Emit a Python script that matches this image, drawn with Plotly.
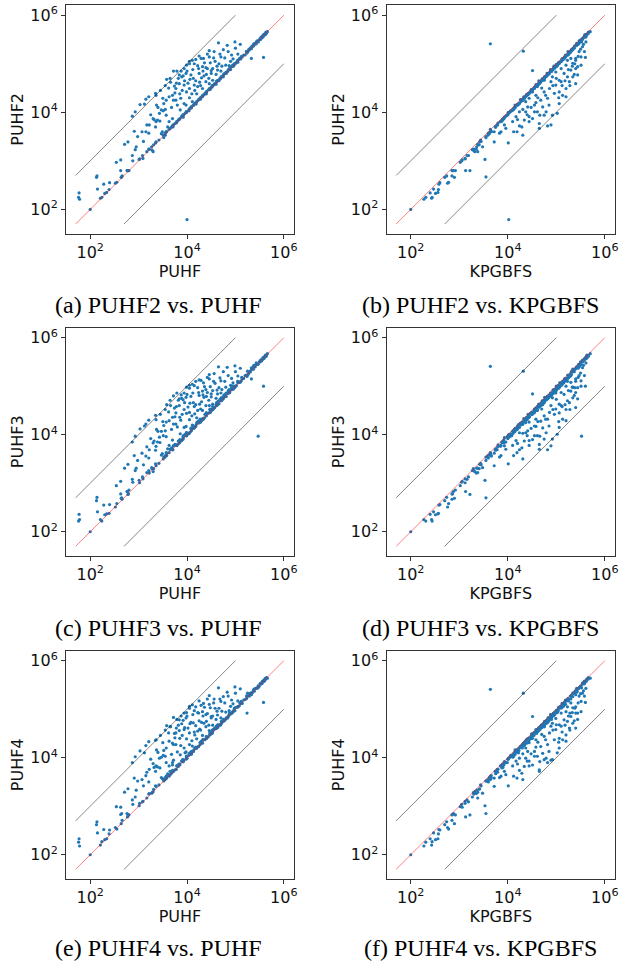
import numpy as np
import plotly.graph_objects as go
from plotly.subplots import make_subplots

# All values are log10(expansions) per problem instance.
# Group A: instances where PUHF is clearly better than PUHF2/3/4 (~KPGBFS)
a_puhf = [1.77,1.76,1.78,2.13,2.14,2.15,2.28,2.40,2.54,2.63,2.63,2.76,2.80,2.71,2.78,2.87,2.88,2.93,2.95,2.91,
          2.87,2.93,3.07,3.15,3.21,3.17,3.22,3.09,3.21,3.28,3.30,3.03,3.12,3.21,3.15,3.35,3.36,3.32,3.36,3.44,
          3.47,3.49,3.52,3.37,3.47,3.51,3.55,3.43,3.57,3.30,3.39,3.63,3.70,3.50,3.57,3.63,3.70,3.77,3.87,3.94,
          3.98,4.11,3.58,3.65,3.72,3.79,3.84,3.89,3.98,3.74,3.77,3.84,3.94,3.99,4.05,4.15,4.22,4.08,4.13,4.25,
          4.30,4.35,3.94,3.99,4.05,4.15,4.11,4.18,4.25,4.29,4.34,4.46,4.70,4.22,4.32,4.39,4.42,4.53,4.63,4.80,
          4.87,4.46,4.56,4.65,4.83,4.99,4.75,4.39,4.46,4.53,4.32,4.20,4.05,3.86,3.60,4.60,4.70,4.95,5.05,4.90,
          3.68,3.75,3.80,3.90,3.95,4.02,4.10,4.18,4.26,4.33,4.40,4.48,4.58,4.62,3.82,3.62,3.52,3.40,4.45,4.68,
          3.45,3.55,3.66,3.72,3.78,3.85,3.92,4.00,4.06,4.12,4.16,4.24,4.28,4.36,4.42,4.50,4.55,4.66,4.72,4.78,
          4.85,4.92,5.00,5.10,3.35,3.25,3.10,2.98,3.88,4.05]
a_puhf2 = [2.34,2.25,2.21,2.66,2.69,2.42,2.52,2.55,2.97,3.02,2.80,2.80,2.80,3.34,3.39,3.11,3.00,3.23,3.29,3.61,
           3.92,4.01,3.60,3.60,3.57,3.74,3.74,3.05,3.24,3.22,3.19,4.16,4.17,4.32,4.27,4.39,4.35,3.85,3.81,3.82,
           3.56,3.60,3.48,4.15,4.05,4.03,4.06,3.98,3.94,3.87,3.84,3.81,3.87,4.29,4.25,4.32,4.35,4.25,4.29,4.18,
           4.15,4.22,4.68,4.70,4.85,4.85,4.77,4.73,4.80,4.54,4.49,4.59,4.56,4.42,4.49,4.56,4.53,4.77,4.70,4.80,
           4.71,4.75,4.90,4.97,5.00,5.00,5.07,5.09,5.16,5.11,5.11,5.14,5.14,4.96,4.94,4.92,4.90,4.90,4.87,4.97,
           4.96,5.27,5.25,5.43,5.38,5.45,5.29,4.63,4.59,4.66,4.49,4.38,4.30,4.05,3.70,4.78,4.85,5.10,5.20,5.05,
           4.10,4.40,4.15,4.45,4.65,4.60,4.38,4.65,4.62,4.85,4.78,5.02,5.05,4.95,4.70,4.50,4.18,4.10,4.70,5.20,
           4.45,4.55,4.62,4.25,4.60,4.38,4.75,4.85,4.68,4.88,4.45,4.90,4.55,5.02,5.20,4.80,5.12,5.00,4.95,5.12,
           5.25,5.18,5.32,5.40,3.70,3.95,3.40,3.50,4.85,5.05]
a_kpg = [2.40,2.31,2.27,2.70,2.74,2.47,2.58,2.60,3.02,3.06,2.86,2.88,2.92,3.38,3.42,3.16,3.05,3.27,3.36,3.66,
         3.96,4.05,3.64,3.66,3.60,3.79,3.78,3.12,3.30,3.29,3.32,4.20,4.22,4.36,4.31,4.43,4.40,3.90,3.85,3.88,
         3.62,3.64,3.55,4.19,4.10,4.08,4.12,4.02,3.99,3.92,3.88,3.86,3.92,4.34,4.30,4.36,4.39,4.31,4.34,4.24,
         4.20,4.27,4.72,4.75,4.89,4.90,4.82,4.78,4.85,4.59,4.54,4.64,4.61,4.47,4.54,4.61,4.58,4.82,4.75,4.85,
         4.76,4.80,4.95,5.02,5.05,5.04,5.12,5.14,5.20,5.16,5.15,5.19,5.18,5.01,4.99,4.97,4.95,4.94,4.92,5.02,
         5.01,5.31,5.30,5.47,5.42,5.49,5.34,4.68,4.64,4.71,4.54,4.43,4.35,4.10,3.75,4.83,4.90,5.15,5.25,5.10,
         4.15,4.45,4.20,4.50,4.70,4.65,4.43,4.70,4.67,4.90,4.83,5.07,5.10,5.00,4.75,4.55,4.23,4.15,4.75,5.25,
         4.50,4.60,4.67,4.30,4.65,4.43,4.80,4.90,4.73,4.93,4.50,4.95,4.60,5.07,5.25,4.85,5.17,5.05,5.00,5.17,
         5.30,5.23,5.37,5.45,3.75,4.00,3.45,3.55,4.90,5.10]
a_puhf3 = [2.36,2.22,2.25,2.64,2.71,2.41,2.55,2.56,2.95,3.04,2.78,2.83,2.86,3.31,3.39,3.08,3.02,3.26,3.31,3.57,
           3.85,3.97,3.62,3.56,3.52,3.75,3.69,3.09,3.26,3.30,3.24,4.12,4.18,4.30,4.22,4.40,4.31,3.87,3.76,3.84,
           3.58,3.61,3.54,4.11,4.07,3.98,4.08,3.95,3.96,3.83,3.85,3.78,3.89,4.27,4.26,4.29,4.36,4.22,4.30,4.15,
           4.17,4.20,4.62,4.71,4.80,4.86,4.74,4.75,4.77,4.55,4.45,4.60,4.52,4.44,4.46,4.58,4.50,4.79,4.66,4.81,
           4.68,4.77,4.86,4.98,4.96,5.01,5.04,5.10,5.13,5.12,5.07,5.15,5.11,4.97,4.90,4.93,4.87,4.91,4.84,4.98,
           4.93,5.24,5.26,5.40,5.39,5.42,5.30,4.60,4.60,4.63,4.50,4.35,4.31,4.02,3.71,4.75,4.86,5.07,5.21,5.02,
           4.11,4.37,4.16,4.42,4.66,4.57,4.39,4.62,4.63,4.82,4.79,4.99,5.06,4.92,4.71,4.47,4.19,4.07,4.71,5.17,
           4.42,4.52,4.60,4.22,4.58,4.36,4.72,4.83,4.65,4.86,4.43,4.87,4.53,4.99,5.18,4.78,5.10,4.97,4.93,5.10,
           5.22,5.16,5.30,5.37,3.68,3.92,3.38,3.47,4.82,5.02]
a_puhf4 = [2.33,2.26,2.18,2.62,2.68,2.45,2.52,2.51,2.99,2.98,2.83,2.85,2.82,3.29,3.36,3.13,3.04,3.19,3.33,3.58,
           3.90,4.02,3.55,3.63,3.50,3.70,3.76,3.10,3.25,3.28,3.30,4.14,4.10,4.33,4.25,4.36,4.37,3.80,3.83,3.79,
           3.59,3.57,3.52,4.16,4.01,4.05,4.03,3.99,3.90,3.88,3.81,3.83,3.85,4.31,4.20,4.34,4.30,4.27,4.25,4.20,
           4.12,4.24,4.66,4.64,4.83,4.79,4.78,4.70,4.82,4.50,4.51,4.56,4.58,4.39,4.51,4.53,4.55,4.73,4.72,4.76,
           4.73,4.71,4.92,4.93,5.02,4.97,5.09,5.05,5.17,5.08,5.12,5.10,5.16,4.93,4.95,4.89,4.91,4.86,4.88,4.94,
           4.97,5.28,5.21,5.44,5.35,5.46,5.26,4.64,4.56,4.67,4.46,4.39,4.27,4.06,3.67,4.79,4.82,5.11,5.17,5.06,
           4.07,4.41,4.12,4.46,4.62,4.61,4.35,4.66,4.59,4.86,4.75,5.03,5.02,4.96,4.67,4.51,4.15,4.11,4.67,5.21,
           4.46,4.57,4.64,4.27,4.61,4.40,4.77,4.86,4.70,4.89,4.47,4.92,4.57,5.04,5.21,4.82,5.13,5.02,4.96,5.13,
           5.27,5.19,5.33,5.42,3.72,3.97,3.42,3.52,4.86,5.06]

# Group B: instances where KPGBFS is clearly worse than all PUHF variants
b_kpg = [2.43,2.44,2.51,2.57,2.56,2.76,2.78,2.85,2.90,2.85,3.13,3.22,3.55,3.12,3.19,3.35,3.38,3.53,3.41,3.48,
         3.72,3.72,3.86,3.96,4.01,4.12,4.19,4.24,4.29,4.31,4.65,4.82,4.89,4.92,4.65,4.44,4.51,4.61,4.66,4.75,
         4.79,4.31,4.37,5.06,5.20,5.13,5.27,5.40,5.37,5.40,5.44,5.51,4.92,5.06,4.37,4.44,4.55,4.58,4.68,4.75,
         4.82,4.86,4.96,4.99,5.06,5.10,5.16,5.23,5.30,5.34,5.40,5.47,5.54,5.58,5.61,5.30,5.20,5.10,4.99,4.89,
         4.75,4.61,4.51,4.41,4.24,4.17,4.34,4.55,5.02,5.20,5.34,5.44,5.51,4.44,4.72,4.10,3.93,3.83,4.13,5.23,
         4.48,4.58,4.70,4.78,4.85,4.93,5.00,5.05,5.12,5.18,5.25,5.28,5.33,5.38,5.45,5.50,5.56,4.62,4.40,4.20]
b_puhf2 = [2.23,2.25,2.33,2.41,2.35,2.54,2.56,2.69,2.66,2.80,2.80,2.80,2.67,3.04,3.11,3.24,3.19,3.03,3.33,3.29,
           3.39,3.60,3.60,3.67,3.37,3.60,3.60,3.72,3.70,3.53,3.67,3.72,3.74,3.94,3.77,3.91,3.87,4.01,3.94,3.94,
           4.01,4.06,4.01,4.18,4.49,4.35,4.63,4.59,4.78,4.90,4.94,5.14,4.73,4.66,4.22,4.29,4.15,4.35,4.25,4.42,
           4.29,4.49,4.39,4.56,4.42,4.63,4.80,4.73,4.87,5.01,5.07,5.25,5.35,5.25,5.45,5.11,4.97,4.90,4.83,4.63,
           4.66,4.53,4.42,4.11,4.01,3.91,3.84,4.01,3.98,4.32,4.73,4.77,4.97,3.81,4.11,3.81,3.74,3.57,4.08,5.07,
           4.10,4.20,4.50,4.35,4.15,4.55,4.70,4.30,4.55,4.65,4.88,4.55,4.95,5.00,5.15,5.30,5.40,4.30,3.95,3.85]
b_puhf = [2.21,2.24,2.30,2.39,2.34,2.52,2.55,2.66,2.64,2.79,2.77,2.78,2.65,3.02,3.08,3.22,3.17,3.01,3.31,3.27,
          3.36,3.58,3.57,3.65,3.35,3.58,3.57,3.70,3.68,3.51,3.65,3.70,3.72,3.92,3.75,3.89,3.85,3.99,3.92,3.91,
          3.99,4.04,3.99,4.16,4.47,4.33,4.61,4.57,4.76,4.88,4.92,5.12,4.71,4.64,4.20,4.27,4.13,4.33,4.23,4.40,
          4.27,4.47,4.37,4.54,4.40,4.61,4.78,4.71,4.85,4.99,5.05,5.23,5.33,5.23,5.43,5.09,4.95,4.88,4.81,4.61,
          4.64,4.51,4.40,4.09,3.99,3.89,3.82,3.99,3.96,4.30,4.71,4.75,4.95,3.79,4.09,3.79,3.72,3.55,4.06,5.05,
          4.08,4.18,4.48,4.33,4.13,4.53,4.68,4.28,4.53,4.63,4.86,4.53,4.93,4.98,5.13,5.28,5.38,4.28,3.93,3.83]
b_puhf3 = [2.25,2.22,2.35,2.38,2.37,2.51,2.58,2.67,2.69,2.78,2.83,2.77,2.70,3.01,3.13,3.21,3.22,3.06,3.30,3.32,
           3.36,3.62,3.57,3.70,3.40,3.57,3.63,3.69,3.73,3.50,3.70,3.69,3.77,3.91,3.80,3.88,3.90,3.98,3.97,3.91,
           4.04,4.03,4.04,4.15,4.52,4.32,4.66,4.56,4.81,4.87,4.97,5.11,4.76,4.63,4.25,4.26,4.18,4.32,4.28,4.39,
           4.32,4.46,4.42,4.53,4.45,4.60,4.83,4.70,4.90,4.98,5.10,5.22,5.38,5.22,5.48,5.08,5.00,4.87,4.86,4.60,
           4.69,4.50,4.45,4.08,4.04,3.88,3.87,3.98,4.01,4.29,4.76,4.74,5.00,3.78,4.14,3.78,3.77,3.54,4.05,5.10,
           4.13,4.17,4.53,4.32,4.18,4.52,4.73,4.27,4.58,4.62,4.91,4.52,4.98,4.97,5.18,5.27,5.43,4.27,3.98,3.82]
b_puhf4 = [2.20,2.27,2.31,2.43,2.33,2.56,2.53,2.71,2.64,2.82,2.78,2.82,2.85,3.06,3.09,3.26,3.17,3.01,3.35,3.27,
           3.41,3.58,3.62,3.65,3.42,3.62,3.58,3.74,3.68,3.55,3.72,3.90,3.95,3.96,3.75,3.93,3.85,4.03,3.92,3.96,
           3.99,4.08,3.99,4.20,4.47,4.37,4.61,4.61,4.76,4.92,4.92,5.16,4.71,4.68,4.20,4.31,4.13,4.37,4.23,4.44,
           4.27,4.51,4.37,4.58,4.40,4.65,4.78,4.75,4.85,5.03,5.05,5.27,5.33,5.27,5.43,5.13,4.95,4.92,4.81,4.65,
           4.64,4.55,4.40,4.13,3.99,3.93,3.82,4.03,4.10,4.34,4.71,4.79,4.95,3.83,4.09,3.83,3.72,3.59,4.10,5.05,
           4.08,4.22,4.48,4.37,4.13,4.57,4.68,4.32,4.53,4.67,4.86,4.57,4.93,5.02,5.13,5.32,5.38,4.32,3.93,3.87]

# Group C: instances where all planners are about equal
c_puhf = [3.42,3.55,3.63,3.71,3.78,3.85,3.92,3.98,4.04,4.09,4.14,4.19,4.24,4.28,4.32,4.36,4.40,4.44,4.48,4.52,
          4.56,4.60,4.63,4.66,4.69,4.72,4.75,4.78,4.81,4.84,4.87,4.90,4.93,4.96,4.99,5.02,5.05,5.08,5.11,5.14,
          5.17,5.20,5.23,5.26,5.29,5.31,5.33,5.35,5.37,5.39,5.41,5.43,5.45,5.47,5.49,5.51,5.52,5.53,5.54,5.55,
          5.56,5.57,5.58,5.59,5.60,5.61,5.62,5.63,5.64,5.66]
c_kpg = [3.44,3.59,3.64,3.74,3.80,3.89,3.93,4.01,4.06,4.13,4.15,4.22,4.26,4.32,4.33,4.39,4.42,4.48,4.49,4.55,
         4.58,4.64,4.64,4.69,4.71,4.76,4.76,4.81,4.83,4.88,4.88,4.93,4.95,5.00,5.00,5.05,5.07,5.12,5.12,5.17,
         5.19,5.24,5.24,5.29,5.31,5.35,5.34,5.38,5.39,5.43,5.42,5.46,5.47,5.51,5.50,5.54,5.54,5.57,5.55,5.58,
         5.58,5.61,5.59,5.62,5.62,5.65,5.63,5.66,5.66,5.70]
c_puhf2 = [3.43,3.53,3.65,3.70,3.78,3.86,3.90,4.00,4.03,4.09,4.15,4.17,4.26,4.27,4.32,4.37,4.38,4.46,4.47,4.52,
           4.57,4.58,4.65,4.65,4.69,4.73,4.73,4.80,4.80,4.84,4.88,4.88,4.95,4.95,4.99,5.03,5.03,5.10,5.10,5.14,
           5.18,5.18,5.25,5.25,5.29,5.32,5.31,5.37,5.36,5.39,5.42,5.41,5.47,5.46,5.49,5.52,5.50,5.55,5.53,5.55,
           5.57,5.55,5.60,5.58,5.60,5.62,5.60,5.65,5.63,5.66]
c_puhf3 = [3.41,3.57,3.63,3.69,3.79,3.84,3.94,3.98,4.02,4.10,4.13,4.21,4.24,4.26,4.33,4.35,4.42,4.44,4.46,4.53,
           4.55,4.62,4.63,4.64,4.70,4.71,4.77,4.78,4.79,4.85,4.86,4.92,4.93,4.94,5.00,5.01,5.07,5.08,5.09,5.15,
           5.16,5.22,5.23,5.24,5.30,5.30,5.35,5.35,5.35,5.40,5.40,5.45,5.45,5.45,5.50,5.50,5.54,5.53,5.52,5.56,
           5.55,5.59,5.58,5.57,5.61,5.60,5.64,5.63,5.62,5.67]
c_puhf4 = [3.44,3.55,3.62,3.72,3.76,3.87,3.92,3.97,4.05,4.07,4.16,4.19,4.23,4.29,4.30,4.38,4.40,4.43,4.49,4.50,
           4.58,4.60,4.62,4.67,4.67,4.74,4.75,4.77,4.82,4.82,4.89,4.90,4.92,4.97,4.97,5.04,5.05,5.07,5.12,5.12,
           5.19,5.20,5.22,5.27,5.27,5.33,5.33,5.34,5.38,5.37,5.43,5.43,5.44,5.48,5.47,5.53,5.52,5.52,5.55,5.53,
           5.58,5.57,5.57,5.60,5.58,5.63,5.62,5.62,5.65,5.64]

# Group D: individual outliers
d_puhf  = [2.00, 4.00, 5.38, 5.25, 5.47, 5.58, 4.50, 5.24, 5.33]
d_kpg   = [2.00, 4.02, 3.64, 4.32, 5.52, 5.60, 4.51, 5.28, 5.40]
d_puhf2 = [2.00, 1.79, 5.41, 5.26, 5.45, 5.13, 4.86, 5.22, 5.11]
d_puhf3 = [2.00, 4.00, 5.41, 5.31, 3.97, 5.00, 4.84, 5.20, 5.15]
d_puhf4 = [2.00, 3.99, 5.41, 5.33, 5.44, 5.14, 4.85, 4.92, 5.30]

# reference lines (data coordinates)
line_lo, line_hi = 50, 1e6
band_factor = 10

def col(*groups):
    return np.power(10.0, np.concatenate([np.asarray(g, float) for g in groups]))

PUHF   = col(a_puhf, b_puhf, c_puhf, d_puhf)
KPGBFS = col(a_kpg, b_kpg, c_kpg, d_kpg)
PUHF2  = col(a_puhf2, b_puhf2, c_puhf2, d_puhf2)
PUHF3  = col(a_puhf3, b_puhf3, c_puhf3, d_puhf3)
PUHF4  = col(a_puhf4, b_puhf4, c_puhf4, d_puhf4)

panels = [
    (PUHF, PUHF2, "PUHF", "PUHF2", "(a) PUHF2 vs. PUHF"),
    (KPGBFS, PUHF2, "KPGBFS", "PUHF2", "(b) PUHF2 vs. KPGBFS"),
    (PUHF, PUHF3, "PUHF", "PUHF3", "(c) PUHF3 vs. PUHF"),
    (KPGBFS, PUHF3, "KPGBFS", "PUHF3", "(d) PUHF3 vs. KPGBFS"),
    (PUHF, PUHF4, "PUHF", "PUHF4", "(e) PUHF4 vs. PUHF"),
    (KPGBFS, PUHF4, "KPGBFS", "PUHF4", "(f) PUHF4 vs. KPGBFS"),
]

W, H = 620, 967
col_x = [(66, 294), (386.5, 615)]
row_y = [(5, 233.7), (327.5, 556), (650.5, 879)]
cap_x = [158.5, 480]
cap_y = [305, 628, 947.5]

def px(x):
    return x / W

def py(y):
    return 1 - y / H

fig = make_subplots(rows=3, cols=2)
tick_font = dict(family="DejaVu Sans", size=16, color="#111")
for i, (xs, ys, xl, yl, cap) in enumerate(panels):
    r, c = i // 2, i % 2
    fig.add_trace(go.Scatter(x=xs, y=ys, mode="markers",
                             marker=dict(size=3.2, color="#1f77b4", line=dict(width=0)),
                             showlegend=False), row=r + 1, col=c + 1)
    fig.add_trace(go.Scatter(x=[line_lo, line_hi], y=[line_lo, line_hi], mode="lines",
                             line=dict(color="rgba(255,0,0,0.5)", width=1), showlegend=False),
                  row=r + 1, col=c + 1)
    fig.add_trace(go.Scatter(x=[line_lo, line_hi / band_factor], y=[line_lo * band_factor, line_hi], mode="lines",
                             line=dict(color="rgba(0,0,0,0.6)", width=0.8), showlegend=False),
                  row=r + 1, col=c + 1)
    fig.add_trace(go.Scatter(x=[line_lo * band_factor, line_hi], y=[line_lo, line_hi / band_factor], mode="lines",
                             line=dict(color="rgba(0,0,0,0.6)", width=0.8), showlegend=False),
                  row=r + 1, col=c + 1)
    x0, x1 = col_x[c]
    y0, y1 = row_y[r]
    common = dict(type="log", range=[1.5, 6.21], tickvals=[1e2, 1e4, 1e6],
                  ticktext=["10<sup>2</sup>", "10<sup>4</sup>", "10<sup>6</sup>"],
                  showline=True, mirror=True, linecolor="#333", linewidth=1,
                  ticks="outside", ticklen=4, tickcolor="#333", showgrid=False, zeroline=False,
                  tickfont=tick_font, automargin=False)
    fig.update_xaxes(domain=[px(x0), px(x1)], title=dict(text=xl, font=tick_font, standoff=4),
                     row=r + 1, col=c + 1, **common)
    fig.update_yaxes(domain=[py(y1), py(y0)], title=dict(text=yl, font=tick_font, standoff=2),
                     row=r + 1, col=c + 1, **common)
    fig.add_annotation(x=px(cap_x[c]), y=py(cap_y[r]), xref="paper", yref="paper",
                       text=cap, showarrow=False, xanchor="center", yanchor="middle",
                       font=dict(family="Liberation Serif", size=24, color="black"))

fig.update_layout(width=W, height=H, margin=dict(l=0, r=0, t=0, b=0),
                  paper_bgcolor="white", plot_bgcolor="white", hovermode=False)
# the default page body has an 8px margin; remove it so the figure fills the window exactly
fig.write_html("out.html", config={"displayModeBar": False, "staticPlot": True},
               post_script="document.body.style.margin='0px';document.body.style.overflow='hidden';")
